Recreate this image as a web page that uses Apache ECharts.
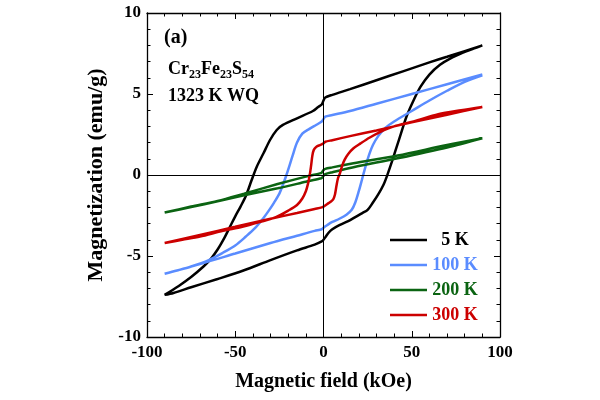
<!DOCTYPE html>
<html>
<head>
<meta charset="utf-8">
<script src="https://cdn.jsdelivr.net/npm/echarts@6/dist/echarts.min.js"></script>
<style>
  html, body { margin: 0; padding: 0; background: #fff; }
  #chart { width: 600px; height: 400px; }
</style>
</head>
<body>
<div id="chart"></div>
<script>
// hysteresis loops: descending branch (+90 -> -90) then ascending branch (-90 -> +90)
const field5K = [90, 80, 70, 60, 45, 30, 15, 5, 1, 0, -1, -3, -6, -15, -23, -26.5, -30.3, -34, -37.8, -40.7, -44, -47, -50, -53, -56, -60, -64, -68, -75, -82, -90,
  -85, -75, -60, -45, -30, -15, -5, -1, 0, 1, 3, 5, 9, 14, 18, 22, 25, 28, 31, 34, 36, 39, 41.5, 44, 47, 51, 55, 60, 66, 72, 79, 85, 90];
const mag5K = [8.0, 7.65, 7.3, 6.95, 6.4, 5.85, 5.3, 4.95, 4.78, 4.6, 4.35, 4.2, 3.95, 3.5, 3.09, 2.78, 2.16, 1.34, 0.51, -0.31, -1.3, -1.95, -2.55, -3.2, -3.85, -4.6, -5.2, -5.65, -6.3, -6.85, -7.4,
  -7.28, -6.93, -6.42, -5.88, -5.25, -4.65, -4.3, -4.1, -4.0, -3.85, -3.55, -3.35, -3.1, -2.85, -2.6, -2.35, -2.15, -1.7, -1.2, -0.6, -0.05, 0.9, 1.75, 2.6, 3.6, 4.6, 5.45, 6.2, 6.8, 7.2, 7.55, 7.8, 8.0];

const field100K = [90, 70, 50, 30, 15, 5, 1, 0, -1, -4, -8, -12, -15, -17.5, -19.5, -21, -23, -25, -28, -31, -34, -39, -44, -50, -57, -65, -75, -83, -90,
  -70, -50, -30, -15, -5, -1, 0, 2, 5, 9, 13, 16, 18, 20, 22, 24, 26, 28, 31, 35, 40, 50, 60, 70, 80, 90];
const mag100K = [6.2, 5.6, 5.0, 4.4, 3.95, 3.7, 3.6, 3.45, 3.3, 3.1, 2.85, 2.55, 2.0, 1.2, 0.5, 0.0, -0.6, -1.15, -1.7, -2.2, -2.65, -3.3, -3.8, -4.35, -4.8, -5.25, -5.65, -5.9, -6.1,
  -5.5, -4.85, -4.2, -3.75, -3.45, -3.35, -3.25, -3.1, -2.9, -2.7, -2.45, -2.15, -1.7, -1.0, -0.2, 0.6, 1.3, 1.85, 2.4, 2.9, 3.3, 3.95, 4.6, 5.2, 5.75, 6.15];

const field200K = [90, 70, 42, 17, 5, 1, 0, -1, -2, -10, -26, -45, -60, -75, -90,
  -75, -60, -45, -26, -10, -2, -1, 0, 1, 5, 17, 42, 70, 90];
const mag200K = [2.27, 1.85, 1.2, 0.72, 0.47, 0.38, 0.3, 0.15, 0.1, -0.1, -0.56, -1.15, -1.6, -1.95, -2.32,
  -1.98, -1.62, -1.25, -0.82, -0.42, -0.22, -0.18, -0.05, 0.05, 0.17, 0.48, 1.03, 1.7, 2.27];

const field300K = [90, 70, 50, 30, 15, 5, 1, 0, -2, -4, -5.5, -6.3, -7, -7.8, -8.8, -10, -12, -15, -20, -27, -36, -46, -57, -70, -80, -90,
  -70, -50, -30, -15, -5, -1, 0, 2, 4, 5.5, 6.5, 7.3, 8.2, 9.3, 10.5, 12, 14, 17, 21, 26, 32, 40, 51, 65, 78, 90];
const mag300K = [4.2, 3.72, 3.25, 2.75, 2.4, 2.15, 2.05, 1.95, 1.85, 1.75, 1.55, 1.2, 0.6, 0.0, -0.55, -1.0, -1.45, -1.85, -2.2, -2.6, -2.9, -3.2, -3.45, -3.8, -4.0, -4.2,
  -3.7, -3.2, -2.7, -2.35, -2.1, -2.0, -1.95, -1.8, -1.65, -1.5, -1.2, -0.7, -0.2, 0.1, 0.55, 0.95, 1.3, 1.65, 1.95, 2.3, 2.65, 3.0, 3.3, 3.75, 4.0, 4.2];

const seriesNames = ['5 K', '100 K', '200 K', '300 K'];
const seriesColors = ['#000000', '#5a8cff', '#0b6412', '#cc0000'];
const xTicks = [-100, -50, 0, 50, 100];
const yTicks = [-10, -5, 0, 5, 10];

const FONT = "'Liberation Serif', 'Times New Roman', serif";

function pairs(xs, ys) {
  return xs.map((x, i) => [x, ys[i]]);
}

const loops = [
  pairs(field5K, mag5K),
  pairs(field100K, mag100K),
  pairs(field200K, mag200K),
  pairs(field300K, mag300K)
];

const chart = echarts.init(document.getElementById('chart'));

const frameAxis = {
  type: 'value',
  axisLine: { show: true, onZero: false, lineStyle: { color: '#000', width: 1.3 } },
  axisTick: { show: true, inside: true, length: 6, lineStyle: { color: '#000', width: 1 } },
  minorTick: { show: true, splitNumber: 5, length: 3.5, lineStyle: { color: '#000', width: 1 } },
  splitLine: { show: false },
  minorSplitLine: { show: false }
};

const labelStyle = {
  fontFamily: FONT, fontWeight: 'bold', fontSize: 17, color: '#000'
};

chart.setOption({
  animation: false,
  backgroundColor: '#fff',
  grid: { left: 147, right: 100, top: 13, bottom: 63 },
  xAxis: [
    Object.assign({}, frameAxis, {
      position: 'bottom',
      min: xTicks[0], max: xTicks[xTicks.length - 1], interval: 50,
      axisLabel: Object.assign({ margin: 7, formatter: v => xTicks.includes(v) ? String(v) : '' }, labelStyle),
      name: 'Magnetic field (kOe)',
      nameLocation: 'middle',
      nameGap: 35,
      nameTextStyle: { fontFamily: FONT, fontWeight: 'bold', fontSize: 20, color: '#000' }
    }),
    Object.assign({}, frameAxis, {
      position: 'top',
      min: xTicks[0], max: xTicks[xTicks.length - 1], interval: 50,
      axisLabel: { show: false }
    })
  ],
  yAxis: [
    Object.assign({}, frameAxis, {
      position: 'left',
      min: yTicks[0], max: yTicks[yTicks.length - 1], interval: 5,
      axisLabel: Object.assign({ margin: 6, formatter: v => yTicks.includes(v) ? String(v) : '' }, labelStyle),
      name: 'Magnetization (emu/g)',
      nameLocation: 'middle',
      nameGap: 40,
      nameTextStyle: { fontFamily: FONT, fontWeight: 'bold', fontSize: 22, color: '#000' }
    }),
    Object.assign({}, frameAxis, {
      position: 'right',
      min: yTicks[0], max: yTicks[yTicks.length - 1], interval: 5,
      axisLabel: { show: false }
    })
  ],
  legend: {
    orient: 'vertical',
    left: 385,
    top: 226,
    icon: 'rect',
    itemWidth: 37,
    itemHeight: 2.5,
    itemGap: 7,
    data: seriesNames.map((n, i) => ({ name: n, textStyle: { color: seriesColors[i] } })),
    formatter: n => '{c|' + n + '}',
    textStyle: {
      fontFamily: FONT, fontWeight: 'bold', fontSize: 18,
      rich: { c: { width: 46, align: 'center', fontFamily: FONT, fontWeight: 'bold', fontSize: 18, lineHeight: 18 } }
    }
  },
  graphic: [
    {
      type: 'text', left: 164, top: 28,
      style: { text: '(a)', font: 'bold 20px ' + FONT, fill: '#000' }
    },
    {
      type: 'text', left: 168, top: 60,
      style: {
        text: '{m|Cr}{s|23}{m|Fe}{s|23}{m|S}{s|54}',
        fill: '#000',
        rich: {
          m: { fontFamily: FONT, fontWeight: 'bold', fontSize: 18, lineHeight: 24, verticalAlign: 'middle' },
          s: { fontFamily: FONT, fontWeight: 'bold', fontSize: 12, lineHeight: 24, verticalAlign: 'bottom' }
        }
      }
    },
    {
      type: 'text', left: 168, top: 87,
      style: { text: '1323 K WQ', font: 'bold 18px ' + FONT, fill: '#000' }
    }
  ],
  series: loops.map((d, i) => ({
    name: seriesNames[i],
    type: 'line',
    xAxisIndex: 0,
    yAxisIndex: 0,
    data: d,
    showSymbol: false,
    symbol: 'none',
    smooth: 0.3,
    z: 3,
    lineStyle: { color: seriesColors[i], width: 2.5 },
    itemStyle: { color: seriesColors[i] },
    markLine: i === 0 ? {
      silent: true,
      symbol: ['none', 'none'],
      label: { show: false },
      lineStyle: { color: '#000', width: 1, type: 'solid' },
      data: [{ xAxis: 0 }, { yAxis: 0 }]
    } : undefined
  }))
});
</script>
</body>
</html>
